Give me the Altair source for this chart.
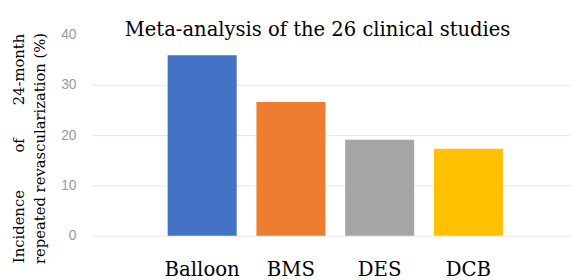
import altair as alt
import pandas as pd

categories = ["Balloon", "BMS", "DES", "DCB"]
values = [35.9, 26.6, 19.1, 17.3]
colors = ["#4472C4", "#ED7D31", "#A5A5A5", "#FFC000"]
y_ticks = [0, 10, 20, 30, 40]
title_text = "Meta-analysis of the 26 clinical studies"
nb = "\u00a0"
y_title = ["Incidence" + nb * 8 + "of" + nb * 7 + "24-month",
           "repeated revascularization (%)"]

df = pd.DataFrame({"cat": categories, "val": values})

chart = alt.Chart(df).mark_bar().encode(
    x=alt.X("cat:N", sort=categories,
            scale=alt.Scale(paddingInner=0.2222, paddingOuter=0.811, align=0.527),
            axis=alt.Axis(title=None, labelAngle=0, labelFont="DejaVu Serif",
                          labelFontSize=20, labelColor="black", labelPadding=40,
                          labelBaseline="alphabetic",
                          domain=False, ticks=False, grid=False)),
    y=alt.Y("val:Q", scale=alt.Scale(domain=[0, 40], nice=False),
            axis=alt.Axis(values=y_ticks, title=y_title, titleFont="DejaVu Serif",
                          titleFontSize=15, titleFontWeight="normal", titleColor="black",
                          titleAngle=270, titleAlign="center", titleBaseline="alphabetic",
                          titleX=-69, titleY=115, titleLineHeight=21,
                          labelFont="Liberation Sans", labelFontSize=14, labelColor="#9a9a9a",
                          labelPadding=16, domain=False, ticks=False,
                          gridColor="#e8e8e8",
                          gridOpacity={"condition": {"test": "datum.value == 40", "value": 0}, "value": 1})),
    color=alt.Color("cat:N", scale=alt.Scale(domain=categories, range=colors), legend=None),
).properties(
    width=486, height=204,
    autosize=alt.AutoSizeParams(type="none"),
    padding={"left": 85, "top": 25, "right": 0, "bottom": 43},
    title=alt.TitleParams(title_text, font="DejaVu Serif", fontSize=19.8, fontWeight="normal",
                          color="black", anchor="middle", baseline="alphabetic",
                          offset=2, dx=-14, dy=30),
).configure_view(stroke=None)

chart.save("out.html", embed_options={"renderer": "svg", "actions": False})
